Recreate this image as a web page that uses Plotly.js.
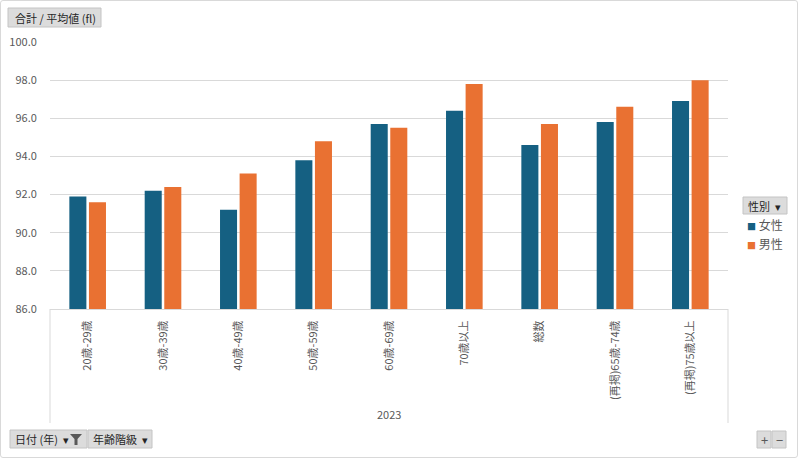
<!DOCTYPE html>
<html>
<head>
<meta charset="utf-8">
<script src="https://cdn.plot.ly/plotly-3.0.1.min.js"></script>
<style>
    body { margin: 0; background: #fff; }
    #wrap { position: relative; width: 798px; height: 458px; }
    #graph { width: 798px; height: 458px; }
    #frame { position: absolute; left: 0; top: 0; width: 796px; height: 456px;
             border: 1px solid #d9d9d9; border-radius: 3px; pointer-events: none; }
</style>
</head>
<body>
<div id="wrap">
    <div id="graph"></div>
    <div id="frame"></div>
</div>
<script>
// age groups (2023), average value per sex
var categories = ['20歳-29歳', '30歳-39歳', '40歳-49歳', '50歳-59歳', '60歳-69歳',
                  '70歳以上', '総数', '(再掲)65歳-74歳', '(再掲)75歳以上'];
var female = [91.9, 92.2, 91.2, 93.8, 95.7, 96.4, 94.6, 95.8, 96.9];
var male   = [91.6, 92.4, 93.1, 94.8, 95.5, 97.8, 95.7, 96.6, 98.0];
var seriesNames = ['女性', '男性'];
var yearLabel = '2023';

var blue = '#156082';
var orange = '#E97132';
var grey = '#595959';
var font = '"Noto Sans CJK JP", "Noto Sans", sans-serif';

// plot area in pixels: left 50, width 678, top 42, height 267
function px(x) { return (x - 50) / 678; }
function py(y) { return (309 - y) / 267; }

function box(x0, y0, x1, y1) {
    return {
        type: 'rect', xref: 'paper', yref: 'paper',
        x0: px(x0), x1: px(x1), y0: py(y1), y1: py(y0),
        fillcolor: '#dcdcdc', line: {color: '#c4c4c4', width: 1}
    };
}
function label(x, y, text, size, color, anchor) {
    return {
        xref: 'paper', yref: 'paper', x: px(x), y: py(y),
        xanchor: anchor || 'left', yanchor: 'middle', showarrow: false,
        text: text, font: {family: font, size: size || 11, color: color || '#262626'}
    };
}
function key(color, name) {
    return '<span style="color:' + color + ';font-size:9px">■</span> ' + name;
}

var hidden = {size: 0, opacity: 0, color: 'rgba(0,0,0,0)', line: {width: 0}};

var data = [
    {
        type: 'bar', x: categories, y: female, name: seriesNames[0],
        marker: {color: blue}, showlegend: false
    },
    {
        type: 'bar', x: categories, y: male, name: seriesNames[1],
        marker: {color: orange}, showlegend: false
    },
    // legend entries with small square keys
    {
        type: 'scatter', x: [null], y: [null], mode: 'markers',
        name: key(blue, seriesNames[0]), marker: hidden
    },
    {
        type: 'scatter', x: [null], y: [null], mode: 'markers',
        name: key(orange, seriesNames[1]), marker: hidden
    }
];

var shapes = [
    // field buttons
    box(8, 8, 101, 27),
    box(743, 197, 787, 214),
    box(10, 430, 87, 448),
    box(88, 430, 152, 448),
    box(757, 431, 771, 448),
    box(772, 431, 786, 448),
    // funnel icon
    {
        type: 'path', xref: 'paper', yref: 'paper',
        path: 'M' + px(70) + ',' + py(434) + ' L' + px(82) + ',' + py(434) +
              ' L' + px(77.5) + ',' + py(439) + ' L' + px(77.5) + ',' + py(445) +
              ' L' + px(74.5) + ',' + py(445) + ' L' + px(74.5) + ',' + py(439) + ' Z',
        fillcolor: '#595959', line: {width: 0}
    },
    // category box side lines
    {type: 'line', xref: 'paper', yref: 'paper', x0: 0, x1: 0, y0: 0, y1: py(423),
     line: {color: '#d9d9d9', width: 1}},
    {type: 'line', xref: 'paper', yref: 'paper', x0: 1, x1: 1, y0: 0, y1: py(423),
     line: {color: '#d9d9d9', width: 1}}
];

var annotations = [
    label(13, 17.5, '合計 / 平均値 (fl)', 11),
    label(746, 205.5, '性別  ▾', 11),
    label(13, 439, '日付 (年)  ▾', 11),
    label(91, 439, '年齢階級  ▾', 11),
    label(764, 439.5, '+', 13, '#595959', 'center'),
    label(779, 439.5, '−', 13, '#595959', 'center'),
    label(389, 414, yearLabel, 11, grey, 'center')
];

var layout = {
    width: 798,
    height: 458,
    margin: {l: 50, r: 70, t: 42, b: 149, autoexpand: false},
    paper_bgcolor: '#fff',
    plot_bgcolor: '#fff',
    font: {family: font, color: grey, size: 11},
    barmode: 'group',
    bargap: 0.48,
    bargroupgap: 0.13,
    showlegend: true,
    legend: {
        x: px(707), y: py(211), xanchor: 'left', yanchor: 'top',
        font: {family: font, size: 12, color: grey},
        itemwidth: 30, tracegroupgap: 0, bgcolor: 'rgba(0,0,0,0)'
    },
    xaxis: {
        type: 'category',
        tickangle: -90,
        tickfont: {family: font, size: 11, color: grey},
        showline: true, linecolor: '#d9d9d9', linewidth: 1,
        ticks: 'outside', ticklen: 6, tickcolor: 'rgba(0,0,0,0)',
        showgrid: false, fixedrange: true
    },
    yaxis: {
        range: [86, 100],
        dtick: 2,
        tickformat: '.1f',
        tickfont: {family: font, size: 11, color: grey},
        gridcolor: '#d9d9d9', gridwidth: 1,
        showline: false, zeroline: false,
        ticks: 'outside', ticklen: 10, tickcolor: 'rgba(0,0,0,0)',
        fixedrange: true
    },
    shapes: shapes,
    annotations: annotations
};

Plotly.newPlot('graph', data, layout, {staticPlot: true});
</script>
</body>
</html>
